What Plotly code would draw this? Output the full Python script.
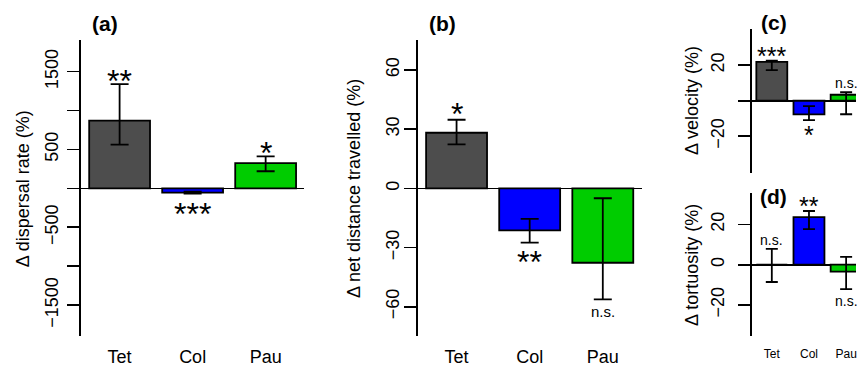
import plotly.graph_objects as go

W, H = 857, 367

categories = ["Tet", "Col", "Pau"]
bar_colors = ["#4d4d4d", "#0000ff", "#00cc00"]

# (a) dispersal rate
disp_mean = [870, -55, 325]
disp_hi = [1338, -42, 410]
disp_lo = [562, -68, 220]
disp_sig = ["**", "***", "*"]
disp_side = ["above", "below", "above"]

# (b) net distance travelled
dist_mean = [28.2, -21.3, -37.7]
dist_hi = [34.8, -15.5, -5.0]
dist_lo = [22.3, -27.5, -56.3]
dist_sig = ["*", "**", "n.s."]
dist_side = ["above", "below", "below"]

# (c) velocity
vel_mean = [21.9, -7.7, 3.4]
vel_hi = [22.6, -3.0, 4.8]
vel_lo = [17.3, -10.9, -7.6]
vel_sig = ["***", "*", "n.s."]
vel_side = ["above", "below", "above"]

# (d) tortuosity
tort_mean = [0.0, 23.7, -3.4]
tort_hi = [7.9, 26.7, 3.9]
tort_lo = [-8.6, 17.7, -12.2]
tort_sig = ["n.s.", "**", "n.s."]
tort_side = ["above", "above", "below"]

bar_x = [0.7, 1.9, 3.1]

FONT = "Liberation Sans, Arial, Helvetica, sans-serif"
LW = 1.8

def px_x(p):
    return p / W

def px_y(p):
    return 1 - p / H

panels = [
    dict(name="a", mean=disp_mean, hi=disp_hi, lo=disp_lo, sig=disp_sig, side=disp_side,
         xd=[px_x(81), px_x(304.7)], yd=[px_y(341), px_y(41)],
         xr=[0.064, 3.736], yr=[-1900, 1900],
         tickvals=[-1500, -1000, -500, 0, 500, 1000, 1500],
         ticktext=["−1500", "", "−500", "", "500", "", "1500"],
         ylabel="Δ dispersal rate (%)", ylab_x=23, title_xy=(105, 24),
         cap=9, star=32, ns=15, xlab=18, showx=True, standoff=2, xstand=8, gap=(10, 12)),
    dict(name="b", mean=dist_mean, hi=dist_hi, lo=dist_lo, sig=dist_sig, side=dist_side,
         xd=[px_x(418.3), px_x(642.3)], yd=[px_y(341), px_y(41)],
         xr=[0.064, 3.736], yr=[-75, 75],
         tickvals=[-60, -30, 0, 30, 60],
         ticktext=["−60", "−30", "0", "30", "60"],
         ylabel="Δ net distance travelled (%)", ylab_x=355, title_xy=(443.5, 24),
         cap=9, star=32, ns=15, xlab=18, showx=True, standoff=-2, xstand=8, gap=(12, 11)),
    dict(name="c", mean=vel_mean, hi=vel_hi, lo=vel_lo, sig=vel_sig, side=vel_side,
         xd=[px_x(753), 1.0], yd=[px_y(175), px_y(29.3)],
         xr=[0.064, 0.064 + 104 / 31], yr=[-40.5, 40.5],
         tickvals=[-20, 0, 20],
         ticktext=["−20", "", "20"],
         ylabel="Δ velocity (%)", ylab_x=693, title_xy=(774.5, 23),
         cap=6, star=25, ns=14, xlab=12, showx=False, standoff=7, xstand=9, gap=(9.5, 9)),
    dict(name="d", mean=tort_mean, hi=tort_hi, lo=tort_lo, sig=tort_sig, side=tort_side,
         xd=[px_x(753), 1.0], yd=[px_y(340.7), px_y(196)],
         xr=[0.064, 0.064 + 104 / 31], yr=[-35.5, 35.5],
         tickvals=[-20, 0, 20],
         ticktext=["−20", "0", "20"],
         ylabel="Δ tortuosity (%)", ylab_x=693, title_xy=(774, 199),
         cap=6, star=25, ns=14, xlab=12, showx=True, standoff=7, xstand=9, gap=(10, 12)),
]

fig = go.Figure()
annotations = []
layout = dict(
    width=W, height=H, margin=dict(l=0, r=0, t=0, b=0),
    paper_bgcolor="white", plot_bgcolor="white", showlegend=False,
    font=dict(family=FONT, color="black", size=18),
    bargap=0,
)

for i, p in enumerate(panels):
    k = "" if i == 0 else str(i + 1)
    xa, ya = "x" + k, "y" + k
    plus = [h - m for h, m in zip(p["hi"], p["mean"])]
    minus = [m - l for m, l in zip(p["mean"], p["lo"])]
    fig.add_trace(go.Bar(
        x=bar_x, y=p["mean"], width=1.0, xaxis=xa, yaxis=ya,
        marker=dict(color=bar_colors, line=dict(color="black", width=LW)),
        error_y=dict(type="data", symmetric=False, array=plus, arrayminus=minus,
                     color="black", thickness=LW, width=p["cap"]),
        hoverinfo="skip",
    ))
    layout["xaxis" + k] = dict(
        domain=p["xd"], range=p["xr"], anchor=ya,
        tickmode="array", tickvals=bar_x, ticktext=categories,
        showticklabels=p["showx"], ticks="", showline=False, showgrid=False,
        zeroline=False, tickfont=dict(size=p["xlab"]), ticklabelstandoff=p["xstand"],
        ticklabeloverflow="allow", fixedrange=True,
    )
    layout["yaxis" + k] = dict(
        domain=p["yd"], range=p["yr"], anchor=xa,
        tickmode="array", tickvals=p["tickvals"], ticktext=p["ticktext"],
        ticks="outside", ticklen=12, tickwidth=LW, tickcolor="black",
        tickangle=-90, tickfont=dict(size=18), ticklabelstandoff=p["standoff"],
        ticklabeloverflow="allow",
        showline=True, linecolor="black", linewidth=LW,
        showgrid=False, zeroline=True, zerolinecolor="black", zerolinewidth=LW,
        fixedrange=True,
    )
    yc = (p["yd"][0] + p["yd"][1]) / 2
    annotations.append(dict(
        text=p["ylabel"], xref="paper", yref="paper", x=px_x(p["ylab_x"]), y=yc,
        textangle=-90, showarrow=False, xanchor="center", yanchor="middle",
        font=dict(size=18),
    ))
    tx, ty = p["title_xy"]
    annotations.append(dict(
        text="<b>(%s)</b>" % p["name"], xref="paper", yref="paper",
        x=px_x(tx), y=px_y(ty), showarrow=False, xanchor="center", yanchor="middle",
        font=dict(size=21),
    ))
    for j in range(3):
        s = p["sig"][j]
        above = p["side"][j] == "above"
        yv = p["hi"][j] if above else p["lo"][j]
        is_star = s.startswith("*")
        fs = p["star"] if is_star else p["ns"]
        d = p["gap"][0] if above else p["gap"][1]
        if is_star:
            shift = (d - (2 + 0.765 * fs)) if above else ((2 + 0.315 * fs) - d)
        else:
            shift = -1 if above else -2
        annotations.append(dict(
            text=s, xref=xa, yref=ya, x=bar_x[j], y=yv, showarrow=False,
            xanchor="center", yanchor="bottom" if above else "top",
            yshift=shift, font=dict(size=fs)))

layout["annotations"] = annotations
fig.update_layout(**layout)
fig.write_html(
    "out.html",
    config={"displayModeBar": False, "staticPlot": True},
    post_script="document.body.style.margin='0px';document.body.style.overflow='hidden';",
)
